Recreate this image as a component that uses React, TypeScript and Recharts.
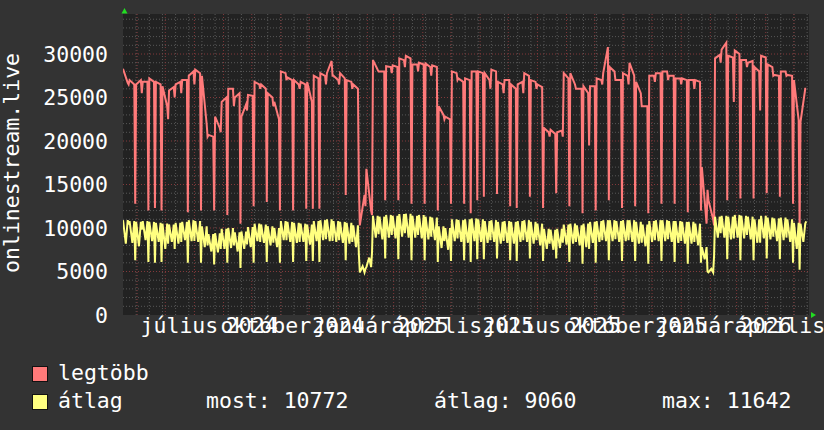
import { CartesianGrid, Line, LineChart, ReferenceLine, XAxis, YAxis } from "recharts";

// one entry per week (dip day is the 7th day of each week)
const maxStart = [
  28300, 27000, 26500, 26800, 27200, 26800, 26300, 25800, 26500, 27000, 27500, 28200, 27500, 20700, 22800, 24500,
  26000, 25000, 22800, 25300, 26800, 26500, 25500, 24500, 28000, 27300, 27000, 26800, 26800, 27500, 27800, 27800,
  27500, 27800, 27000, 26500, 10300, 16800, 29300, 28000, 28600, 28700, 29500, 29800, 28800, 29000, 28900, 28700,
  24000, 22800, 28000, 27200, 27200, 28000, 28000, 27800, 28200, 26800, 27000, 26500, 26500, 27800, 27000, 26500,
  21500, 21300, 21000, 27800, 27800, 26000, 26300, 26300, 27200, 27800, 28500, 27000, 27800, 29000, 26800, 24000,
  27500, 27800, 28000, 27500, 27200, 27200, 27000, 27000, 17000, 13200, 29500, 30500, 29800, 30400, 29300, 29000,
  28500, 29800, 28800, 27600, 28000, 27600, 27000, 22200,
];
const maxEnd = [
  26700, 26500, 27000, 26800, 26800, 26500, 24000, 26200, 26800, 27000, 28000, 27800, 22000, 20500, 21500, 25000,
  26000, 25500, 24200, 25200, 26500, 26000, 25000, 22500, 27800, 27000, 26500, 26500, 24500, 27200, 27500, 29200,
  27000, 27200, 26800, 26000, 13800, 12000, 28200, 28000, 28500, 28500, 29300, 29500, 28800, 28800, 28500, 28500,
  23000, 22500, 27800, 26800, 27000, 28000, 27800, 27000, 28000, 26500, 27000, 26000, 26800, 27500, 26800, 26200,
  21000, 20800, 21200, 27200, 26500, 26000, 25500, 26300, 27000, 30800, 28000, 27000, 27500, 27500, 25500, 24000,
  27500, 27800, 28000, 27500, 27200, 27000, 27000, 26800, 10500, 11000, 29900, 31300, 29600, 30000, 29300, 29200,
  28000, 29600, 28500, 27500, 28000, 27500, 22400, 26000,
];
const maxLow = [
  26500, 12800, 25500, 12000, 12300, 12000, 22500, 25000, 25500, 11800, 26500, 12000, 20500, 12000, 21000, 11500,
  24000, 10500, 23500, 12500, 26000, 13000, 24000, 12000, 27000, 12000, 26000, 12200, 12200, 12200, 26500, 27500,
  26500, 13800, 26000, 15000, 12500, 11500, 28000, 13200, 27800, 13200, 28500, 12800, 28000, 12800, 27500, 12000,
  22500, 12800, 27000, 12800, 11700, 13200, 13600, 26000, 13900, 25500, 12500, 12300, 25500, 13600, 26000, 12300,
  20500, 14000, 20500, 12500, 26000, 11700, 19500, 12000, 26500, 13200, 27000, 12300, 26500, 12500, 24000, 11700,
  26800, 12800, 27000, 12800, 26500, 11800, 26000, 12000, 14400, 10300, 29000, 13200, 24500, 13400, 28500, 13400,
  23500, 14000, 27500, 13600, 27500, 12800, 10200, 26000,
];

const avgTop = [
  10900, 10800, 10700, 10800, 10700, 10600, 10500, 10400, 10600, 10700, 10900, 10800, 10200, 9300, 9400, 9900,
  10000, 9500, 9600, 10100, 10500, 10400, 10200, 10000, 10800, 10700, 10600, 10500, 10400, 10800, 10900, 11000,
  10800, 10700, 10600, 10300, 4900, 5500, 11400, 11300, 11500, 11400, 11600, 11642, 11400, 11500, 11300, 11200,
  10200, 10000, 11000, 10900, 11000, 11100, 11000, 10800, 10900, 10700, 10800, 10700, 10800, 10900, 10700, 10500,
  9900, 9800, 9900, 10400, 10500, 10300, 10500, 10700, 10800, 10900, 10900, 10800, 10900, 10900, 10700, 10400,
  10800, 10900, 10900, 10800, 10800, 10700, 10700, 10500, 7800, 4900, 11300, 11400, 11300, 11500, 11400, 11300,
  11000, 11400, 11200, 11100, 11200, 11000, 10600, 10500,
];
const avgMid = [
  8200, 8300, 7900, 8600, 8500, 8400, 7600, 8400, 8200, 8600, 8500, 8400, 7800, 7300, 7200, 7600,
  7700, 7300, 7600, 7800, 8500, 8300, 8000, 7800, 8600, 8400, 8300, 8400, 8100, 8500, 8600, 8500,
  8400, 8300, 8200, 7800, 5600, 6600, 8900, 8700, 8900, 8800, 9000, 8900, 8900, 8800, 8700, 8600,
  7700, 7500, 8500, 8400, 8300, 8500, 8400, 8300, 8400, 8200, 8300, 8200, 8400, 8400, 8200, 8000,
  7600, 7500, 7700, 8100, 8200, 8000, 7800, 8300, 8400, 8500, 8500, 8400, 8500, 8400, 8200, 7900,
  8400, 8500, 8500, 8400, 8300, 8200, 8200, 8000, 6400, 5300, 8900, 8900, 8700, 8900, 8800, 8700,
  8300, 8800, 8700, 8500, 8600, 8400, 7600, 8400,
];
const avgLow = [
  10400, 6300, 9800, 6100, 6000, 6100, 8200, 7600, 8400, 6000, 8500, 6000, 8000, 5800, 7600, 6000,
  8000, 5400, 8100, 6000, 8400, 6100, 8300, 6000, 8600, 6100, 8400, 6200, 6200, 6100, 8700, 8500,
  8600, 6300, 8400, 7000, 5300, 7200, 9300, 6500, 9200, 6400, 9400, 6300, 9200, 6300, 9000, 6100,
  8500, 6200, 8800, 6300, 6100, 6400, 6400, 8600, 6500, 8500, 6300, 6200, 8600, 6500, 8600, 6200,
  8200, 6500, 8300, 6100, 8400, 5900, 7600, 6000, 8600, 6300, 8700, 6200, 8600, 6200, 8300, 5900,
  8600, 6200, 8700, 6100, 8500, 5900, 8400, 6000, 5000, 6800, 9400, 6400, 8800, 6300, 9200, 6300,
  8300, 6500, 9000, 6400, 8900, 6000, 5200, 10772,
];

// days counted from 17 May 2024
const monthStartDays = [15, 45, 76, 107, 137, 168, 198, 229, 260, 288, 319, 349, 380, 410, 441, 472, 502, 533, 563, 594, 625, 653, 684, 714];
const monthLabelDays = [60, 152, 244, 334, 425, 517, 609, 699];
const monthLabels = ["július", "október", "január", "április", "július", "október", "január", "április"];
const yearLabelDays = [137, 229, 319, 410, 502, 594, 684];
const yearLabels = ["2024", "2024", "2025", "2025", "2025", "2025", "2026"];
const yTicks = [0, 5000, 10000, 15000, 20000, 25000, 30000];

const legendStats = { most: "10772", atlag: "9060", max: "11642" };

const FONT = "'DejaVu Sans Mono', monospace";
const FS = 21.5;
const RED = "#ff7a7a";
const YELLOW = "#ffff80";

const rows: { day: number; max: number | null; avg: number }[] = [];
maxStart.forEach((_, n) => {
  const d = n * 7;
  rows.push({ day: d, max: maxStart[n], avg: avgTop[n] });
  rows.push({ day: d + 3, max: null, avg: avgMid[n] });
  rows.push({ day: d + 5, max: maxEnd[n], avg: avgTop[n] });
  rows.push({ day: d + 6, max: maxLow[n], avg: avgLow[n] });
});

const xLabel = new Map<number, string>();
monthLabelDays.forEach((d, i) => xLabel.set(d, monthLabels[i]));
yearLabelDays.forEach((d, i) => xLabel.set(d, yearLabels[i]));
const xTicks = [...monthLabelDays, ...yearLabelDays];

const minorDays: number[] = [];
for (let d = 14; d < 730; d += 14) minorDays.push(d);
const minorValues: number[] = [];
for (let v = 1000; v < 34600; v += 1000) if (v % 5000) minorValues.push(v);

function XTick({ x, y, payload }: any) {
  return (
    <text x={x} y={y + 18} textAnchor="middle" fill="#fff" fontFamily={FONT} fontSize={FS}>
      {xLabel.get(payload.value)}
    </text>
  );
}

function YTick({ x, y, payload }: any) {
  return (
    <text x={x} y={y + 7.5} textAnchor="end" fill="#fff" fontFamily={FONT} fontSize={FS}>
      {payload.value}
    </text>
  );
}

export default function App() {
  return (
    <div style={{ position: "absolute", left: 0, top: 0, width: 824, height: 430, background: "#333" }}>
      <LineChart width={824} height={430} data={rows} margin={{ top: 14, right: 15, bottom: 0, left: 0 }}>
        <CartesianGrid horizontal={false} vertical={false} fill="#222" stroke="none" />
        {minorDays.map((d) => (
          <ReferenceLine key={"vx" + d} x={d} stroke="#585858" strokeDasharray="1 2" />
        ))}
        {minorValues.map((v) => (
          <ReferenceLine key={"hy" + v} y={v} stroke="#585858" strokeDasharray="1 2" />
        ))}
        {monthStartDays.map((d) => (
          <ReferenceLine key={"mx" + d} x={d} stroke="#83393b" strokeDasharray="1 2" />
        ))}
        {yTicks.slice(1).map((v) => (
          <ReferenceLine key={"my" + v} y={v} stroke="#83393b" strokeDasharray="1 2" />
        ))}
        <XAxis
          dataKey="day"
          type="number"
          domain={[0, 730]}
          allowDataOverflow
          ticks={xTicks}
          interval={0}
          height={115}
          axisLine={false}
          tickLine={false}
          tickSize={0}
          tickMargin={0}
          tick={<XTick />}
        />
        <YAxis
          type="number"
          domain={[0, 34600]}
          allowDataOverflow
          ticks={yTicks}
          interval={0}
          width={123}
          axisLine={false}
          tickLine={false}
          tickSize={0}
          tickMargin={15}
          tick={<YTick />}
        />
        <Line dataKey="max" stroke={RED} strokeWidth={2} dot={false} activeDot={false} connectNulls isAnimationActive={false} />
        <Line dataKey="avg" stroke={YELLOW} strokeWidth={2} dot={false} activeDot={false} isAnimationActive={false} />
      </LineChart>
      <svg width={824} height={430} style={{ position: "absolute", left: 0, top: 0, pointerEvents: "none" }}>
        <polygon points="124.5,8 121.5,13.5 127.5,13.5" fill="#22dd22" />
        <polygon points="816,315 811,312 811,318" fill="#22dd22" />
        <text
          transform="translate(18.5,163) rotate(-90)"
          textAnchor="middle"
          fill="#fff"
          fontFamily={FONT}
          fontSize={FS}
        >
          onlinestream.live
        </text>
        <rect x={32.5} y={366.5} width={15} height={15} fill={RED} stroke="#111" />
        <text x={58} y={380} fill="#fff" fontFamily={FONT} fontSize={FS}>legtöbb</text>
        <rect x={32.5} y={394.5} width={15} height={15} fill={YELLOW} stroke="#111" />
        <text x={58} y={408} fill="#fff" fontFamily={FONT} fontSize={FS}>átlag</text>
        <text x={206} y={408} fill="#fff" fontFamily={FONT} fontSize={FS}>most: {legendStats.most}</text>
        <text x={434} y={408} fill="#fff" fontFamily={FONT} fontSize={FS}>átlag: {legendStats.atlag}</text>
        <text x={662} y={408} fill="#fff" fontFamily={FONT} fontSize={FS}>max: {legendStats.max}</text>
      </svg>
    </div>
  );
}
